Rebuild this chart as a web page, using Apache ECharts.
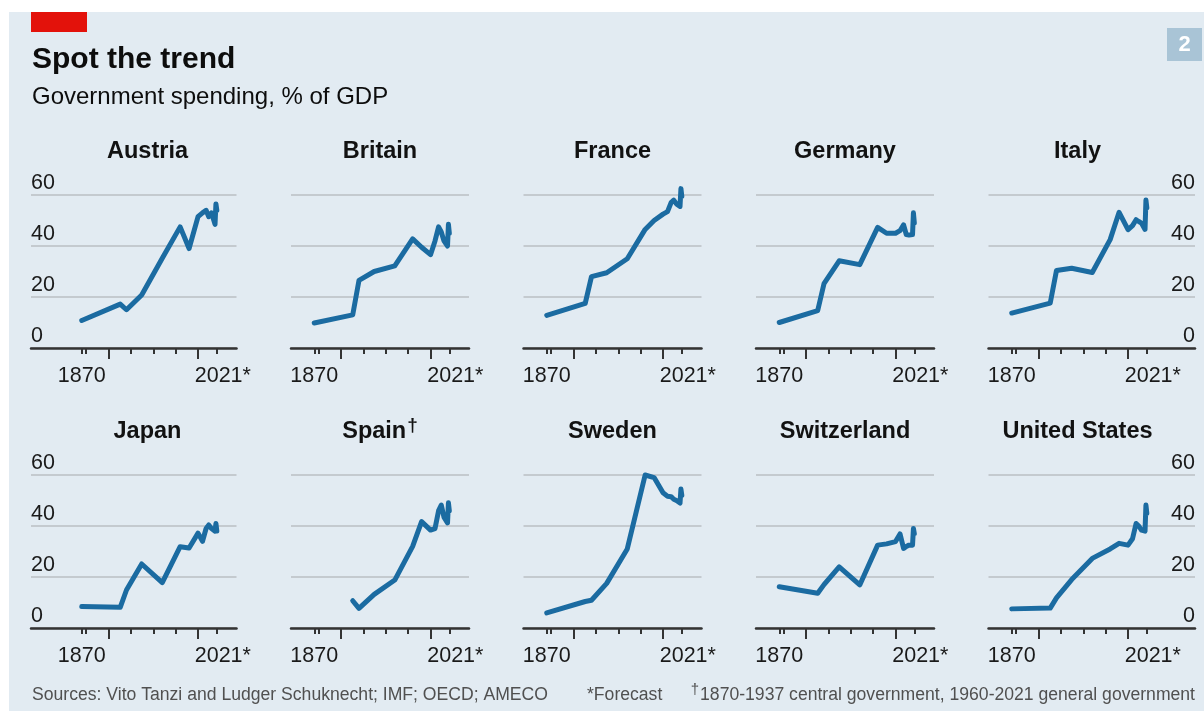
<!DOCTYPE html>
<html><head><meta charset="utf-8">
<script src="https://cdn.jsdelivr.net/npm/echarts@6/dist/echarts.min.js"></script>
<style>html,body{margin:0;padding:0;background:#fff}#c{width:1204px;height:711px}</style>
</head><body><div id="c"></div>
<script>
// ---- data ----
const years = [1870, 1913, 1920, 1937, 1960, 1980, 1990, 2000, 2005, 2009, 2012, 2015, 2019, 2020, 2021];
const countries = ['Austria', 'Britain', 'France', 'Germany', 'Italy', 'Japan', 'Spain', 'Sweden', 'Switzerland', 'United States'];
const austria     = [10.8, 17.2, 15.0, 20.8, 35.2, 47.5, 39.0, 51.5, 53.0, 54.0, 51.5, 53.0, 48.5, 56.5, 54.0];
const britain     = [9.8, 13.0, 26.5, 30.0, 32.2, 42.8, 39.5, 36.6, 42.0, 47.5, 45.5, 42.0, 40.0, 48.5, 45.0];
const france      = [12.8, 17.5, 28.0, 29.5, 35.0, 46.5, 50.0, 52.5, 53.5, 57.0, 58.0, 56.5, 55.5, 62.5, 59.5];
const germany     = [10.0, 14.7, 25.2, 34.2, 32.7, 47.3, 45.0, 45.0, 46.0, 48.3, 44.5, 44.3, 44.5, 53.0, 49.0];
const italy       = [13.7, 17.6, 30.4, 31.3, 29.6, 42.5, 53.2, 46.4, 48.0, 50.3, 49.6, 49.0, 46.5, 58.0, 55.0];
const japan       = [8.4, 8.1, 14.9, 25.1, 17.8, 31.9, 31.4, 37.2, 34.0, 39.0, 40.4, 39.0, 38.0, 41.0, 38.0];
const spain       = [null, 10.7, 7.7, 13.2, 18.8, 32.0, 41.7, 38.4, 39.0, 46.0, 48.2, 43.5, 41.2, 49.1, 46.0];
const sweden      = [5.9, 10.4, 10.9, 17.5, 31.0, 60.0, 59.0, 53.0, 51.7, 51.5, 50.5, 50.0, 49.0, 54.5, 52.0];
const switzerland = [16.2, 13.6, 17.0, 24.0, 16.9, 32.5, 33.0, 33.9, 36.9, 31.2, 32.0, 32.5, 32.5, 39.0, 37.0];
const unitedStates= [7.5, 7.8, 11.8, 19.0, 27.3, 31.0, 33.2, 32.5, 35.0, 41.0, 40.0, 38.4, 38.0, 48.2, 45.0];
const seriesValues = [austria, britain, france, germany, italy, japan, spain, sweden, switzerland, unitedStates];

const yTicks = [0, 20, 40, 60];
const xLabelYears = [1870, 2021];
const xMinorTicks = [1870, 1875, 1925, 1950, 1975, 2021];
const xMajorTicks = [1900, 2000];

// ---- layout ----
const FONT = "'Liberation Sans', Arial, sans-serif";
const BLUE = '#1b6ba1';
const X0 = 1844, X1 = 2043;
const colLeft = [58.5, 291, 523.5, 756, 988.5];
const rowTop = [195, 475];
const innerW = 178, plotH = 153;
const pxPerYear = innerW / (X1 - X0);
const extraLeft = 27.5, extraRight = 28.5;

const grids = [], xAxes = [], yAxes = [], series = [], graphics = [];

graphics.push({type:'rect', shape:{x:0,y:0,width:1204,height:12}, style:{fill:'#fff'}, silent:true});
graphics.push({type:'rect', shape:{x:0,y:0,width:9,height:711}, style:{fill:'#fff'}, silent:true});
graphics.push({type:'rect', shape:{x:31,y:12,width:56,height:20}, style:{fill:'#e3120b'}});
graphics.push({type:'text', style:{text:'Spot the trend', x:32, y:60, font:'bold 30px ' + FONT, fill:'#0d0d0d', textVerticalAlign:'middle'}});
graphics.push({type:'text', style:{text:'Government spending, % of GDP', x:32, y:97, font:'24px ' + FONT, fill:'#0d0d0d', textVerticalAlign:'middle'}});
graphics.push({type:'rect', shape:{x:1167,y:28,width:35,height:33}, style:{fill:'#a9c4d6'}});
graphics.push({type:'text', style:{text:'2', x:1184.5, y:45, font:'bold 22px ' + FONT, fill:'#fff', textAlign:'center', textVerticalAlign:'middle'}});
graphics.push({type:'text', style:{text:'Sources: Vito Tanzi and Ludger Schuknecht; IMF; OECD; AMECO', x:32, y:695, font:'17.6px ' + FONT, fill:'#505050', textVerticalAlign:'middle'}});
graphics.push({type:'text', style:{text:'*Forecast', x:587, y:695, font:'17.6px ' + FONT, fill:'#505050', textVerticalAlign:'middle'}});
graphics.push({type:'text', style:{
  text:'{d|†}{t|1870-1937 central government, 1960-2021 general government}', x:1195, y:695, textAlign:'right', textVerticalAlign:'middle',
  rich:{d:{font:'15px ' + FONT, fill:'#505050', padding:[0,1,10,0]}, t:{font:'17.6px ' + FONT, fill:'#505050'}}
}});

countries.forEach((name, i) => {
  const row = Math.floor(i / 5), col = i % 5;
  let left = colLeft[col], width = innerW, xmin = X0, xmax = X1;
  if (col === 0) { left -= extraLeft; width += extraLeft; xmin = X0 - extraLeft / pxPerYear; }
  if (col === 4) { width += extraRight; xmax = X1 + extraRight / pxPerYear; }
  grids.push({left: left, top: rowTop[row], width: width, height: plotH});
  const labelStyle = {fontFamily: FONT, fontSize: 21.5, color: '#1a1a1a'};
  xAxes.push({
    type:'value', gridIndex:i, min:xmin, max:xmax, position:'bottom',
    axisLine:{show:true, onZero:false, lineStyle:{color:'#333', width:2.5}},
    axisTick:{show:true, customValues:xMinorTicks, length:6, lineStyle:{color:'#333', width:2}},
    axisLabel:Object.assign({show:true, customValues:xLabelYears, margin:17,
      formatter:(v) => (v === 2021 ? '{s|' + v + '*}' : String(v)),
      rich:{s:{fontFamily:FONT, fontSize:21.5, color:'#1a1a1a', padding:[0,0,0,12]}}
    }, labelStyle),
    splitLine:{show:false}
  });
  xAxes.push({
    type:'value', gridIndex:i, min:xmin, max:xmax, position:'bottom',
    axisLine:{show:false, onZero:false},
    axisTick:{show:true, customValues:xMajorTicks, length:11, lineStyle:{color:'#333', width:2}},
    axisLabel:{show:false}, splitLine:{show:false}
  });
  yAxes.push({
    type:'value', gridIndex:i, min:yTicks[0], max:yTicks[yTicks.length-1], interval:yTicks[1]-yTicks[0],
    position: col === 4 ? 'right' : 'left',
    axisLine:{show:false}, axisTick:{show:false},
    axisLabel:Object.assign({show: col === 0 || col === 4, inside:true, margin:0, verticalAlign:'bottom', padding:[0,0,1,0]}, labelStyle),
    splitLine:{show:true, lineStyle:{color:'#c4cacf', width:2}}
  });
  const vals = seriesValues[i];
  const data = years.map((y, k) => [y, vals[k]]).filter(d => d[1] !== null);
  series.push({
    type:'line', name:name, xAxisIndex:2*i, yAxisIndex:i, data:data,
    showSymbol:false, symbol:'none', clip:false, silent:true,
    lineStyle:{color:BLUE, width:5, cap:'round', join:'round'}
  });
  const cx = colLeft[col] + innerW / 2;
  const ty = row === 0 ? 152 : 432;
  if (name === 'Spain') {
    graphics.push({type:'text', style:{text:'{a|Spain}{b|†}', x:cx, y:ty, textAlign:'center', textVerticalAlign:'middle',
      rich:{a:{font:'bold 23.5px ' + FONT, fill:'#121212'}, b:{font:'bold 19px ' + FONT, fill:'#121212', padding:[0,0,12,1]}}}});
  } else {
    graphics.push({type:'text', style:{text:name, x:cx, y:ty, font:'bold 23.5px ' + FONT, fill:'#121212', textAlign:'center', textVerticalAlign:'middle'}});
  }
});

const chart = echarts.init(document.getElementById('c'), null, {renderer:'canvas'});
chart.setOption({
  backgroundColor:'#e2ebf2',
  animation:false,
  grid:grids, xAxis:xAxes, yAxis:yAxes, series:series,
  graphic:{elements:graphics}
});
</script></body></html>
